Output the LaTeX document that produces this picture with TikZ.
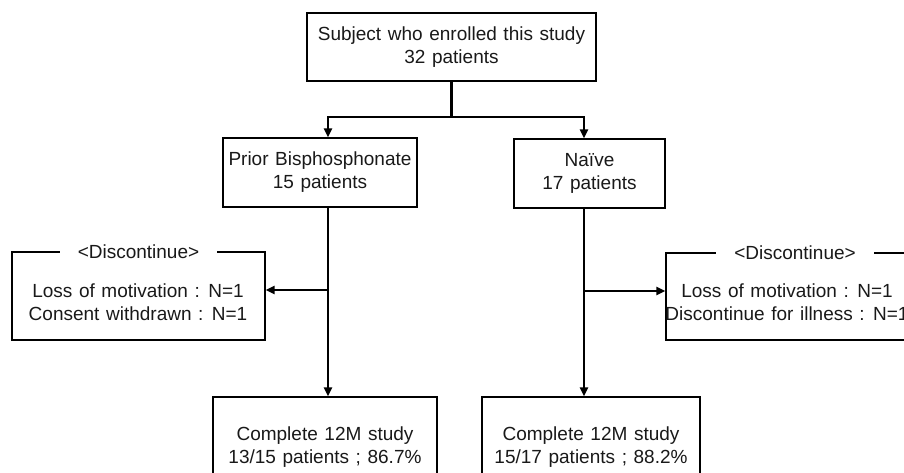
\documentclass[tikz,border=0pt]{standalone}
\usepackage{fontspec}
\setmainfont[WordSpace=1.25]{Liberation Sans}
\usetikzlibrary{arrows.meta}
\begin{document}
\begin{tikzpicture}[x=1pt, y=-1pt, every node/.style={font=\fontsize{19}{23}\selectfont, text=black!90}]
  \tikzset{
    stage/.style={rectangle, draw=black, line width=1.3pt, align=center, inner sep=0pt},
    dropbox/.style={rectangle, draw=black, line width=1.3pt, inner sep=0pt},
    droptitle/.style={fill=white, inner xsep=18pt, inner ysep=2pt},
    droptext/.style={align=center, inner sep=0pt},
    trunk/.style={line width=2.3pt},
    flow/.style={line width=2.3pt, -{Triangle[length=9pt, width=8pt]}}
  }
  \useasboundingbox (0,0) rectangle (904,473);

  \node[stage, minimum width=289pt, minimum height=68pt] (enrol) at (451.5,47) {Subject who enrolled this study\\32 patients};
  \node[stage, minimum width=194pt, minimum height=69pt] (prior) at (320,172.5) {Prior Bisphosphonate\\15 patients};
  \node[stage, minimum width=151pt, minimum height=69pt] (naive) at (589.5,173.5) {Naïve\\17 patients};
  \node[stage, minimum width=224pt, minimum height=100pt] (doneL) at (325,447) {Complete 12M study\\13/15 patients ; 86.7\%};
  \node[stage, minimum width=218pt, minimum height=100pt] (doneR) at (591,447) {Complete 12M study\\15/17 patients ; 88.2\%};

  \node[dropbox, minimum width=253pt, minimum height=88pt] (discL) at (138.5,296) {};
  \node[dropbox, minimum width=254pt, minimum height=87pt] (discR) at (793,296.5) {};
  \node[droptitle] (discLtitle) at (discL.north) {<Discontinue>};
  \node[droptitle] (discRtitle) at ([xshift=2pt]discR.north) {<Discontinue>};
  \node[droptext] (discLtext) at (138,302) {Loss of motivation : N=1\\Consent withdrawn : N=1};
  \node[droptext] (discRtext) at (787,302) {Loss of motivation : N=1\\Discontinue for illness : N=1};

  \coordinate (fork) at (451.5,117);
  \coordinate (forkL) at (328,117);
  \coordinate (forkR) at (584,117);
  \coordinate (dropL) at (328,290);
  \coordinate (dropR) at (584,291);

  \draw[trunk] (enrol.south) -- (fork);
  \draw[flow] (fork) -| (forkL |- prior.north);
  \draw[flow] (fork) -| (forkR |- naive.north);
  \draw[flow] (forkL |- prior.south) -- (forkL |- doneL.north);
  \draw[flow] (forkR |- naive.south) -- (forkR |- doneR.north);
  \draw[flow] (dropL) -- (dropL -| discL.east);
  \draw[flow] (dropR) -- (dropR -| discR.west);
\end{tikzpicture}
\end{document}
